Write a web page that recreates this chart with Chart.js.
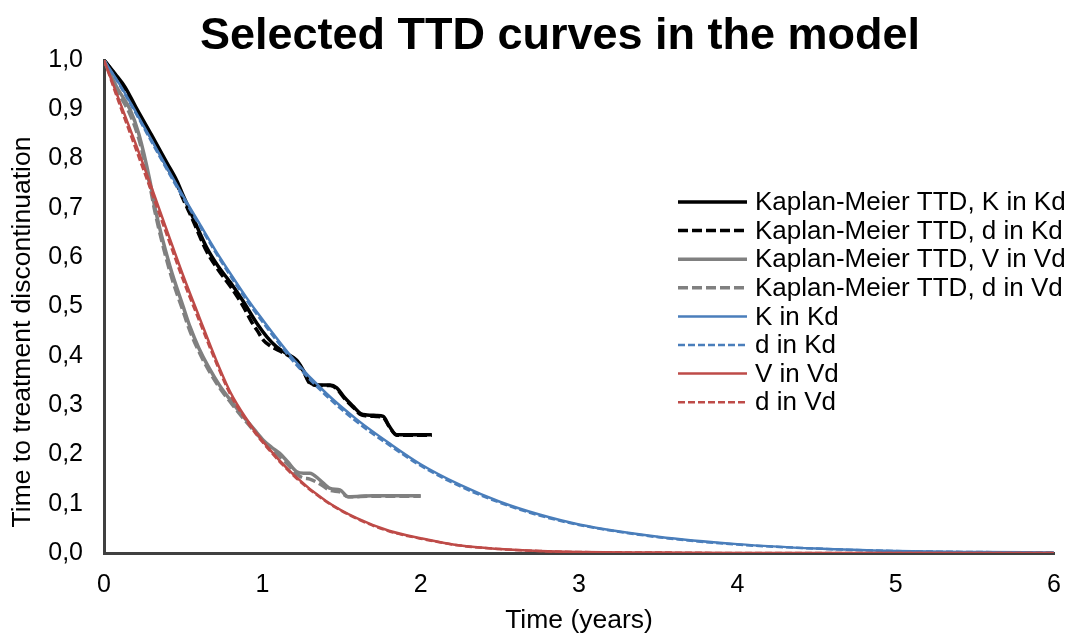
<!DOCTYPE html>
<html>
<head>
<meta charset="utf-8">
<title>Selected TTD curves in the model</title>
<script src="https://cdn.jsdelivr.net/npm/chart.js@4.4.1/dist/chart.umd.min.js"></script>
<style>
  html, body { margin: 0; padding: 0; background: #fff; }
  #wrap { width: 1073px; height: 637px; }
</style>
</head>
<body>
<div id="wrap"><canvas id="ttd"></canvas></div>
<script>
// Kaplan-Meier TTD, K in Kd
const kmKTimes = [0, 0.07, 0.133, 0.2, 0.3, 0.4, 0.46, 0.5, 0.56, 0.648, 0.72, 0.8, 0.88, 0.965, 1.03, 1.09, 1.15, 1.217, 1.26, 1.3, 1.35, 1.428, 1.47, 1.52, 1.575, 1.62, 1.66, 1.72, 1.764, 1.8, 1.848, 1.95, 2.07];
const kmKValues = [1.0, 0.972, 0.945, 0.905, 0.848, 0.79, 0.755, 0.725, 0.682, 0.62, 0.582, 0.548, 0.51, 0.466, 0.438, 0.418, 0.405, 0.391, 0.37, 0.346, 0.341, 0.341, 0.335, 0.315, 0.297, 0.283, 0.28, 0.279, 0.277, 0.258, 0.24, 0.24, 0.24];

// Kaplan-Meier TTD, d in Kd
const kmKdTimes = [0, 0.07, 0.133, 0.2, 0.3, 0.4, 0.46, 0.5, 0.56, 0.648, 0.72, 0.8, 0.88, 0.93, 0.97, 1.006, 1.05, 1.09, 1.15, 1.217, 1.26, 1.3, 1.35, 1.428, 1.47, 1.52, 1.575, 1.62, 1.66, 1.72, 1.764, 1.8, 1.848, 1.95, 2.07];
const kmKdValues = [1.0, 0.97, 0.94, 0.9, 0.842, 0.782, 0.748, 0.718, 0.676, 0.612, 0.575, 0.54, 0.5, 0.47, 0.45, 0.432, 0.42, 0.413, 0.403, 0.389, 0.368, 0.344, 0.34, 0.34, 0.333, 0.313, 0.295, 0.281, 0.278, 0.277, 0.275, 0.257, 0.239, 0.239, 0.239];

// Kaplan-Meier TTD, V in Vd
const kmVTimes = [0, 0.08, 0.164, 0.22, 0.29, 0.322, 0.417, 0.5, 0.543, 0.6, 0.659, 0.73, 0.806, 0.88, 0.95, 1.006, 1.06, 1.11, 1.16, 1.217, 1.26, 1.3, 1.364, 1.428, 1.49, 1.543, 1.7, 1.85, 2.0];
const kmVValues = [1.0, 0.945, 0.9, 0.85, 0.755, 0.7, 0.581, 0.5, 0.459, 0.415, 0.378, 0.34, 0.307, 0.277, 0.25, 0.229, 0.214, 0.202, 0.185, 0.165, 0.162, 0.162, 0.148, 0.131, 0.128, 0.114, 0.116, 0.116, 0.116];

// Kaplan-Meier TTD, d in Vd
const kmVdTimes = kmVTimes;
const kmVdValues = [1.0, 0.94, 0.89, 0.84, 0.745, 0.692, 0.57, 0.49, 0.45, 0.408, 0.372, 0.335, 0.303, 0.273, 0.247, 0.227, 0.21, 0.196, 0.18, 0.16, 0.152, 0.15, 0.14, 0.127, 0.124, 0.114, 0.115, 0.115, 0.115];

// fitted model curves, common time grid
const modelTimes = [0, 0.1, 0.2, 0.3, 0.4, 0.5, 0.6, 0.7, 0.8, 0.9, 1.0, 1.2, 1.4, 1.6, 1.8, 2.0, 2.25, 2.5, 2.75, 3.0, 3.5, 4.0, 4.5, 5.0, 5.5, 6.0];
const kInKd = [1.0, 0.95, 0.895, 0.838, 0.78, 0.724, 0.67, 0.616, 0.566, 0.518, 0.474, 0.392, 0.325, 0.27, 0.223, 0.18, 0.138, 0.104, 0.078, 0.058, 0.033, 0.018, 0.009, 0.004, 0.002, 0.001];
const dInKd = [1.0, 0.948, 0.892, 0.834, 0.776, 0.72, 0.666, 0.612, 0.561, 0.513, 0.469, 0.387, 0.32, 0.265, 0.219, 0.177, 0.135, 0.102, 0.076, 0.057, 0.032, 0.017, 0.009, 0.004, 0.002, 0.001];
const vInVd = [1.0, 0.915, 0.83, 0.742, 0.652, 0.563, 0.48, 0.398, 0.325, 0.272, 0.228, 0.158, 0.106, 0.07, 0.045, 0.03, 0.015, 0.008, 0.004, 0.002, 0.001, 0, 0, 0, 0, 0];
const dInVd = [1.0, 0.908, 0.82, 0.732, 0.642, 0.553, 0.472, 0.392, 0.32, 0.268, 0.225, 0.156, 0.105, 0.069, 0.044, 0.029, 0.015, 0.008, 0.004, 0.002, 0.001, 0, 0, 0, 0, 0];

const xTicks = [0, 1, 2, 3, 4, 5, 6];
const yTicks = [0, 0.1, 0.2, 0.3, 0.4, 0.5, 0.6, 0.7, 0.8, 0.9, 1.0];

const FONT = "'Liberation Sans', Arial, sans-serif";
const AXIS = '#404040';
const BLUE = '#4a7ebb';
const RED = '#be4b48';
const GRAY = '#808080';

const pts = (xs, ys) => xs.map((x, i) => ({x: x, y: ys[i]}));

const series = [
    {label: 'Kaplan-Meier TTD, K in Kd', data: pts(kmKTimes, kmKValues), borderColor: '#000', borderWidth: 3.5, borderDash: []},
    {label: 'Kaplan-Meier TTD, d in Kd', data: pts(kmKdTimes, kmKdValues), borderColor: '#000', borderWidth: 3.5, borderDash: [10, 4]},
    {label: 'Kaplan-Meier TTD, V in Vd', data: pts(kmVTimes, kmVValues), borderColor: GRAY, borderWidth: 3.5, borderDash: []},
    {label: 'Kaplan-Meier TTD, d in Vd', data: pts(kmVdTimes, kmVdValues), borderColor: GRAY, borderWidth: 3.5, borderDash: [10, 4]},
    {label: 'K in Kd', data: pts(modelTimes, kInKd), borderColor: BLUE, borderWidth: 2.5, borderDash: []},
    {label: 'd in Kd', data: pts(modelTimes, dInKd), borderColor: BLUE, borderWidth: 2.5, borderDash: [7, 3]},
    {label: 'V in Vd', data: pts(modelTimes, vInVd), borderColor: RED, borderWidth: 2.5, borderDash: []},
    {label: 'd in Vd', data: pts(modelTimes, dInVd), borderColor: RED, borderWidth: 2.5, borderDash: [7, 3]},
];

// title and y-axis title sit a little off-centre in the original, so draw them here
const chartTexts = {
    id: 'chartTexts',
    afterDraw(chart) {
        const ctx = chart.ctx;
        ctx.save();
        ctx.fillStyle = '#000';
        ctx.textAlign = 'center';
        ctx.textBaseline = 'middle';
        ctx.font = 'bold 45px ' + FONT;
        ctx.fillText('Selected TTD curves in the model', 560, 37);
        ctx.translate(23, 332);
        ctx.rotate(-Math.PI / 2);
        ctx.font = '26.5px ' + FONT;
        ctx.fillText('Time to treatment discontinuation', 0, 0);
        ctx.restore();
    }
};

// Excel-style legend, drawn inside the plot on the right
const sideLegend = {
    id: 'sideLegend',
    afterDatasetsDraw(chart) {
        const ctx = chart.ctx;
        ctx.save();
        ctx.font = '26px ' + FONT;
        ctx.textBaseline = 'middle';
        ctx.fillStyle = '#000';
        chart.data.datasets.forEach((ds, i) => {
            const y = 202 + i * 28.6;
            ctx.strokeStyle = ds.borderColor;
            ctx.lineWidth = ds.borderWidth;
            ctx.setLineDash(ds.borderDash);
            ctx.beginPath();
            ctx.moveTo(678, y);
            ctx.lineTo(747, y);
            ctx.stroke();
            ctx.setLineDash([]);
            ctx.fillText(ds.label, 755, y + 1);
        });
        ctx.restore();
    }
};

new Chart(document.getElementById('ttd'), {
    type: 'line',
    data: {
        datasets: series.map((s, i) => ({
            label: s.label,
            data: s.data,
            borderColor: s.borderColor,
            borderWidth: s.borderWidth,
            borderDash: s.borderDash,
            pointRadius: 0,
            fill: false,
            cubicInterpolationMode: 'monotone',
            order: 10 - i,
        })),
    },
    options: {
        responsive: true,
        maintainAspectRatio: false,
        animation: false,
        layout: {padding: {left: 0, right: 19, top: 60, bottom: 0}},
        plugins: {
            legend: {display: false},
            tooltip: {enabled: false},
            title: {display: false},
        },
        scales: {
            x: {
                type: 'linear',
                min: 0,
                max: 6,
                afterFit: (scale) => {
                    scale.height = 84;
                    // tick padding is meant vertically only; drop the side padding it adds
                    scale.paddingLeft = 0;
                    scale.paddingRight = 0;
                },
                afterBuildTicks: (scale) => { scale.ticks = xTicks.map(v => ({value: v})); },
                grid: {display: false, drawTicks: false},
                border: {display: true, color: AXIS, width: 3},
                ticks: {
                    color: '#000',
                    padding: 17,
                    font: {family: FONT, size: 25},
                    callback: (v) => String(v),
                },
                title: {
                    display: true,
                    text: 'Time (years)',
                    color: '#000',
                    font: {family: FONT, size: 26.5},
                    padding: {top: 0, bottom: 0},
                },
            },
            y: {
                type: 'linear',
                min: 0,
                max: 1,
                afterFit: (scale) => { scale.width = 104; },
                afterBuildTicks: (scale) => { scale.ticks = yTicks.map(v => ({value: v})); },
                grid: {display: false, drawTicks: false},
                border: {display: true, color: AXIS, width: 3},
                ticks: {
                    color: '#000',
                    padding: 21,
                    font: {family: FONT, size: 25},
                    callback: (v) => v.toFixed(1).replace('.', ','),
                },
                title: {display: false},
            },
        },
    },
    plugins: [sideLegend, chartTexts],
});
</script>
</body>
</html>
